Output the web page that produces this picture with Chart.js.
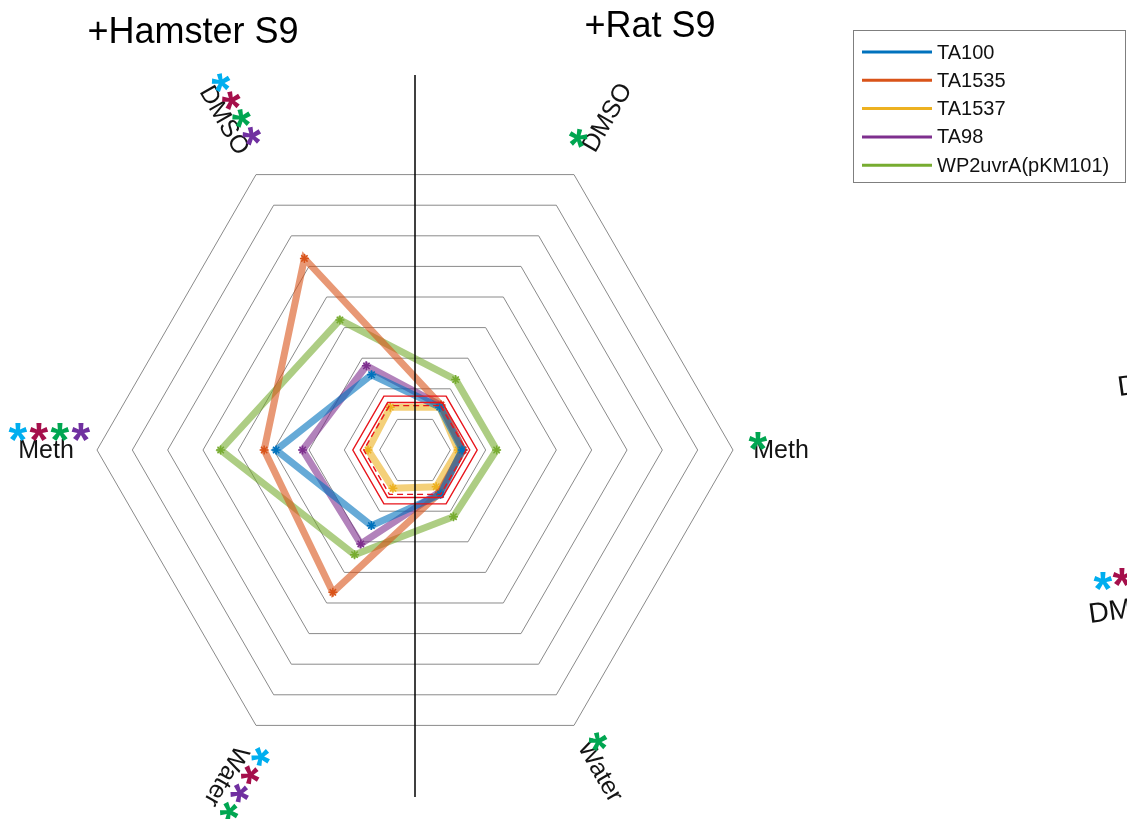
<!DOCTYPE html>
<html>
<head>
<meta charset="utf-8">
<title>Ames strain response radar</title>
<script src="https://cdn.jsdelivr.net/npm/chart.js@4.4.1/dist/chart.umd.min.js"></script>
<style>
  html, body { margin: 0; padding: 0; background: #ffffff; }
  #wrap { width: 1127px; height: 819px; position: relative; overflow: hidden; }
  canvas { display: block; }
</style>
</head>
<body>
<div id="wrap"><canvas id="radar" width="1127" height="819"></canvas></div>
<script>
// Spokes run clockwise from the upper-right one:
// Rat S9 (DMSO, Meth, Water) on the right half, Hamster S9 (Water, Meth, DMSO) on the left half.
const axisLabels = ['DMSO', 'Meth', 'Water', 'Water', 'Meth', 'DMSO'];

// Response per strain on each spoke
const ta100  = [1.40, 1.33, 1.45, 2.47, 3.93, 2.46];
const ta1535 = [1.47, 1.36, 1.40, 4.65, 4.27, 6.26];
const ta1537 = [1.40, 1.22, 1.20, 1.25, 1.33, 1.40];
const ta98   = [1.46, 1.36, 1.38, 3.07, 3.18, 2.75];
const wp2    = [2.30, 2.31, 2.18, 3.42, 5.50, 4.25];

// Reference cut-off rings
const cutoffOuter  = [1.76, 1.76, 1.76, 1.76, 1.76, 1.76];
const cutoffInner  = [1.55, 1.55, 1.55, 1.55, 1.55, 1.55];
const cutoffDashed = [1.45, 1.45, 1.45, 1.45, 1.45, 1.45];

const seriesNames  = ['TA100', 'TA1535', 'TA1537', 'TA98', 'WP2uvrA(pKM101)'];
const seriesColors = ['#0072BD', '#D95319', '#EDB120', '#7E2F8E', '#77AC30'];
const panelTitles  = ['+Hamster S9', '+Rat S9'];

// Significance marks shown beside each spoke label
const markColors = { cyan: '#00AEEF', crimson: '#A50F4B', green: '#00A651', purple: '#7030A0' };
const spokeMarks = [
  ['green'],
  ['green'],
  ['green'],
  ['cyan', 'crimson', 'purple', 'green'],
  ['cyan', 'crimson', 'green', 'purple'],
  ['cyan', 'crimson', 'green', 'purple']
];

function rgba(hex, a) {
  const n = parseInt(hex.slice(1), 16);
  return `rgba(${(n >> 16) & 255},${(n >> 8) & 255},${n & 255},${a})`;
}

const seriesValues = [ta100, ta1535, ta1537, ta98, wp2];

const datasets = [
  { label: 'cutoff-dashed', data: cutoffDashed, borderColor: '#E8141B', borderWidth: 1.4,
    borderDash: [6, 4], pointRadius: 0, fill: false, isCutoff: true },
  { label: 'cutoff-inner', data: cutoffInner, borderColor: '#E8141B', borderWidth: 1.4,
    pointRadius: 0, fill: false, isCutoff: true },
  { label: 'cutoff-outer', data: cutoffOuter, borderColor: '#E8141B', borderWidth: 1.4,
    pointRadius: 0, fill: false, isCutoff: true }
];
seriesNames.forEach((name, i) => {
  datasets.push({
    label: name,
    data: seriesValues[i],
    borderColor: rgba(seriesColors[i], 0.6),
    borderWidth: 7,
    fill: false,
    pointStyle: 'star',
    pointRadius: 4.5,
    pointBorderWidth: 1.5,
    pointBorderColor: seriesColors[i],
    pointBackgroundColor: seriesColors[i],
    legendColor: seriesColors[i]
  });
});

// Placement of rotated spoke labels (distance from centre in px, rotation in degrees)
const labelLayout = [
  { dist: 384, rot: -60, markStart: -32, markStep: 20.5, markUp: 15 },
  { dist: 366, rot: 0,   markStart: -23, markStep: 20.5, markUp: 9 },
  { dist: 371, rot: 60,  markStart: -27, markStep: 20.5, markUp: 13 },
  { dist: 377, rot: 120, markStart: -34, markStep: 21,   markUp: 20 },
  { dist: 369, rot: 0,   markStart: -28, markStep: 21,   markUp: 18 },
  { dist: 381, rot: 60,  markStart: -34, markStep: 20.5, markUp: 16 }
];

const FONT = '"Liberation Sans", Arial, Helvetica, sans-serif';

function drawMark(ctx, x, y, color) {
  ctx.save();
  ctx.font = 'bold 48px ' + FONT;
  ctx.fillStyle = color;
  ctx.textAlign = 'left';
  ctx.textBaseline = 'alphabetic';
  const m = ctx.measureText('*');
  const cxOff = (m.actualBoundingBoxRight - m.actualBoundingBoxLeft) / 2;
  const cyOff = (m.actualBoundingBoxAscent - m.actualBoundingBoxDescent) / 2;
  ctx.fillText('*', x - cxOff, y + cyOff);
  ctx.restore();
}

const overlay = {
  id: 'overlay',
  afterDatasetsDraw(chart) {
    const r = chart.scales.r;
    const ctx = chart.ctx;
    const cx = r.xCenter;
    ctx.save();

    // divider between the two S9 halves
    ctx.strokeStyle = '#000000';
    ctx.lineWidth = 1.5;
    ctx.beginPath();
    ctx.moveTo(cx, 75);
    ctx.lineTo(cx, 797);
    ctx.stroke();

    // spoke labels with significance marks
    labelLayout.forEach((L, i) => {
      const p = r.getPointPosition(i, L.dist);
      ctx.save();
      ctx.translate(p.x, p.y);
      ctx.rotate(L.rot * Math.PI / 180);
      ctx.font = '25px ' + FONT;
      ctx.fillStyle = '#141414';
      ctx.textAlign = 'center';
      ctx.textBaseline = 'middle';
      ctx.fillText(axisLabels[i], 0, 1);
      spokeMarks[i].forEach((c, k) => {
        drawMark(ctx, L.markStart + k * L.markStep, -L.markUp, markColors[c]);
      });
      ctx.restore();
    });

    // panel titles
    ctx.fillStyle = '#000000';
    ctx.font = '36px ' + FONT;
    ctx.textAlign = 'center';
    ctx.textBaseline = 'middle';
    ctx.fillText(panelTitles[0], 193, 33);
    ctx.fillText(panelTitles[1], 650, 27);

    // legend box
    const lx = 853, ly = 30, lw = 272, lh = 152;
    ctx.fillStyle = '#ffffff';
    ctx.fillRect(lx, ly, lw, lh);
    ctx.strokeStyle = '#7f7f7f';
    ctx.lineWidth = 1;
    ctx.strokeRect(lx + 0.5, ly + 0.5, lw, lh);
    ctx.font = '20px ' + FONT;
    ctx.textAlign = 'left';
    ctx.textBaseline = 'middle';
    chart.data.datasets.filter(d => !d.isCutoff).forEach((d, k) => {
      const y = 52 + k * 28.3;
      ctx.strokeStyle = d.legendColor;
      ctx.lineWidth = 3;
      ctx.beginPath();
      ctx.moveTo(862, y);
      ctx.lineTo(932, y);
      ctx.stroke();
      ctx.fillStyle = '#111111';
      ctx.fillText(d.label, 937, y + 1);
    });

    // edge of the neighbouring panel
    ctx.fillStyle = '#111111';
    ctx.font = '28px ' + FONT;
    ctx.textAlign = 'left';
    ctx.textBaseline = 'alphabetic';
    ctx.save();
    ctx.translate(1119, 396);
    ctx.rotate(-8 * Math.PI / 180);
    ctx.fillText('DMSO', 0, 0);
    ctx.restore();
    ctx.save();
    ctx.translate(1090, 623);
    ctx.rotate(-8 * Math.PI / 180);
    ctx.fillText('DMSO', 0, 0);
    ctx.restore();
    drawMark(ctx, 1103, 581, markColors.cyan);
    drawMark(ctx, 1122, 577, markColors.crimson);

    ctx.restore();
  }
};

new Chart(document.getElementById('radar'), {
  type: 'radar',
  data: { labels: axisLabels, datasets: datasets },
  options: {
    responsive: false,
    animation: false,
    layout: { padding: { left: 97, right: 394, top: 132, bottom: 51 } },
    plugins: {
      legend: { display: false },
      tooltip: { enabled: false },
      title: { display: false }
    },
    elements: { line: { tension: 0 } },
    scales: {
      r: {
        min: 0,
        max: 9,
        startAngle: 30,
        ticks: { display: false, stepSize: 1 },
        grid: { color: '#8a8a8a', lineWidth: 1 },
        angleLines: { display: false },
        pointLabels: { display: false }
      }
    }
  },
  plugins: [overlay]
});
</script>
</body>
</html>
